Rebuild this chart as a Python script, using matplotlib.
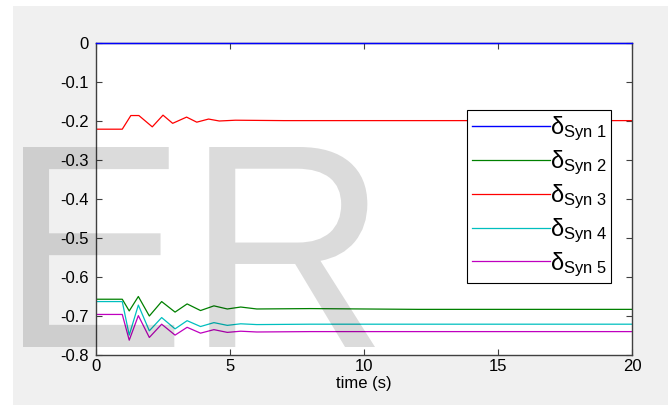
import matplotlib
matplotlib.use("Agg")
import matplotlib.pyplot as plt
from matplotlib.textpath import TextPath
from matplotlib.patches import PathPatch
from matplotlib.font_manager import FontProperties
from matplotlib.transforms import Affine2D

plt.rcParams['font.family'] = ['Liberation Sans', 'DejaVu Sans']
plt.rcParams['mathtext.fontset'] = 'custom'
plt.rcParams['mathtext.rm'] = 'Liberation Sans'
plt.rcParams['mathtext.it'] = 'Liberation Sans:italic'

# rotor angle traces
t = [0, 0.98, 1.24, 1.58, 1.99, 2.45, 2.95, 3.4, 3.9, 4.4, 4.9, 5.4, 6, 8, 10, 12, 15, 20]
syn1 = [0.0] * len(t)
syn2 = [-0.657, -0.657, -0.687, -0.650, -0.700, -0.663, -0.690, -0.669, -0.686,
        -0.674, -0.682, -0.677, -0.682, -0.681, -0.682, -0.683, -0.683, -0.683]
syn4 = [-0.663, -0.663, -0.749, -0.672, -0.738, -0.704, -0.733, -0.712, -0.727,
        -0.717, -0.724, -0.720, -0.722, -0.721, -0.721, -0.721, -0.721, -0.721]
syn5 = [-0.696, -0.696, -0.762, -0.699, -0.755, -0.721, -0.749, -0.729, -0.744,
        -0.735, -0.742, -0.739, -0.741, -0.740, -0.740, -0.740, -0.740, -0.740]

t3 = [0, 0.98, 1.3, 1.6, 2.1, 2.5, 2.86, 3.38, 3.76, 4.2, 4.6, 5.2, 7, 10, 15, 20]
syn3 = [-0.221, -0.221, -0.186, -0.186, -0.215, -0.185, -0.206, -0.190, -0.203,
        -0.195, -0.200, -0.198, -0.199, -0.199, -0.199, -0.199]

labels = [r'δ$_{\mathrm{Syn\ %d}}$' % i for i in range(1, 6)]

W, H = 668, 405
fig = plt.figure(figsize=(W / 100, H / 100), dpi=100)
fig.patch.set_facecolor('white')
# matlab-ish gray window behind the axes
bg = plt.Rectangle((13 / W, 0), 1, 1 - 6 / H, transform=fig.transFigure,
                   facecolor='#f0f0f0', edgecolor='none', zorder=-10)
fig.patches.append(bg)

ax = fig.add_axes([96 / W, 50 / H, 536 / W, 312 / H])
ax.set_facecolor('white')

ax.plot(t, syn1, color=(0, 0, 1), lw=1.0, label=labels[0], clip_on=False, zorder=5)
ax.plot(t, syn2, color=(0, 0.5, 0), lw=0.9, label=labels[1])
ax.plot(t3, syn3, color=(1, 0, 0), lw=0.9, label=labels[2])
ax.plot(t, syn4, color=(0, 0.75, 0.75), lw=0.9, label=labels[3])
ax.plot(t, syn5, color=(0.75, 0, 0.75), lw=0.9, label=labels[4])

ax.set_xlim(0, 20)
ax.set_ylim(-0.8, 0)
ax.set_xticks([0, 5, 10, 15, 20])
ax.set_yticks([-0.8, -0.7, -0.6, -0.5, -0.4, -0.3, -0.2, -0.1, 0])
ax.set_yticklabels(['-0.8', '-0.7', '-0.6', '-0.5', '-0.4', '-0.3', '-0.2', '-0.1', '0'])
ax.tick_params(direction='in', length=4, width=0.8, color='#404040',
               labelsize=12, top=True, right=True)
ax.tick_params(axis='y', pad=5)
ax.tick_params(axis='x', pad=3)
for s in ax.spines.values():
    s.set_color('#404040')
    s.set_linewidth(1.0)
ax.set_xlabel('time (s)', fontsize=12, labelpad=1)

leg = ax.legend(loc='upper left', bbox_to_anchor=(0.692, 0.785), fontsize=17,
                handlelength=3.3, labelspacing=0.23, borderpad=0.2,
                borderaxespad=0, handletextpad=0.0, fancybox=False, framealpha=1)
leg.get_frame().set_edgecolor('black')
leg.get_frame().set_linewidth(0.8)

# big watermark, squeezed into the box it takes in the original (pixels)
wm = TextPath((0, 0), 'ER', size=100, prop=FontProperties(family='Liberation Sans'))
ext = wm.get_extents()
x0, x1, ytop, ybot = 23, 375, 147, 347
sx = (x1 - x0) / ext.width
sy = (ybot - ytop) / ext.height
tr = (Affine2D().translate(-ext.x0, -ext.y0).scale(sx, sy)
      .translate(x0, H - ybot).scale(1 / W, 1 / H))
wm_patch = PathPatch(tr.transform_path(wm), transform=fig.transFigure,
                     facecolor='black', edgecolor='none', alpha=0.14, zorder=20)
fig.patches.append(wm_patch)

fig.savefig('out.png', dpi=100, facecolor=fig.get_facecolor())
